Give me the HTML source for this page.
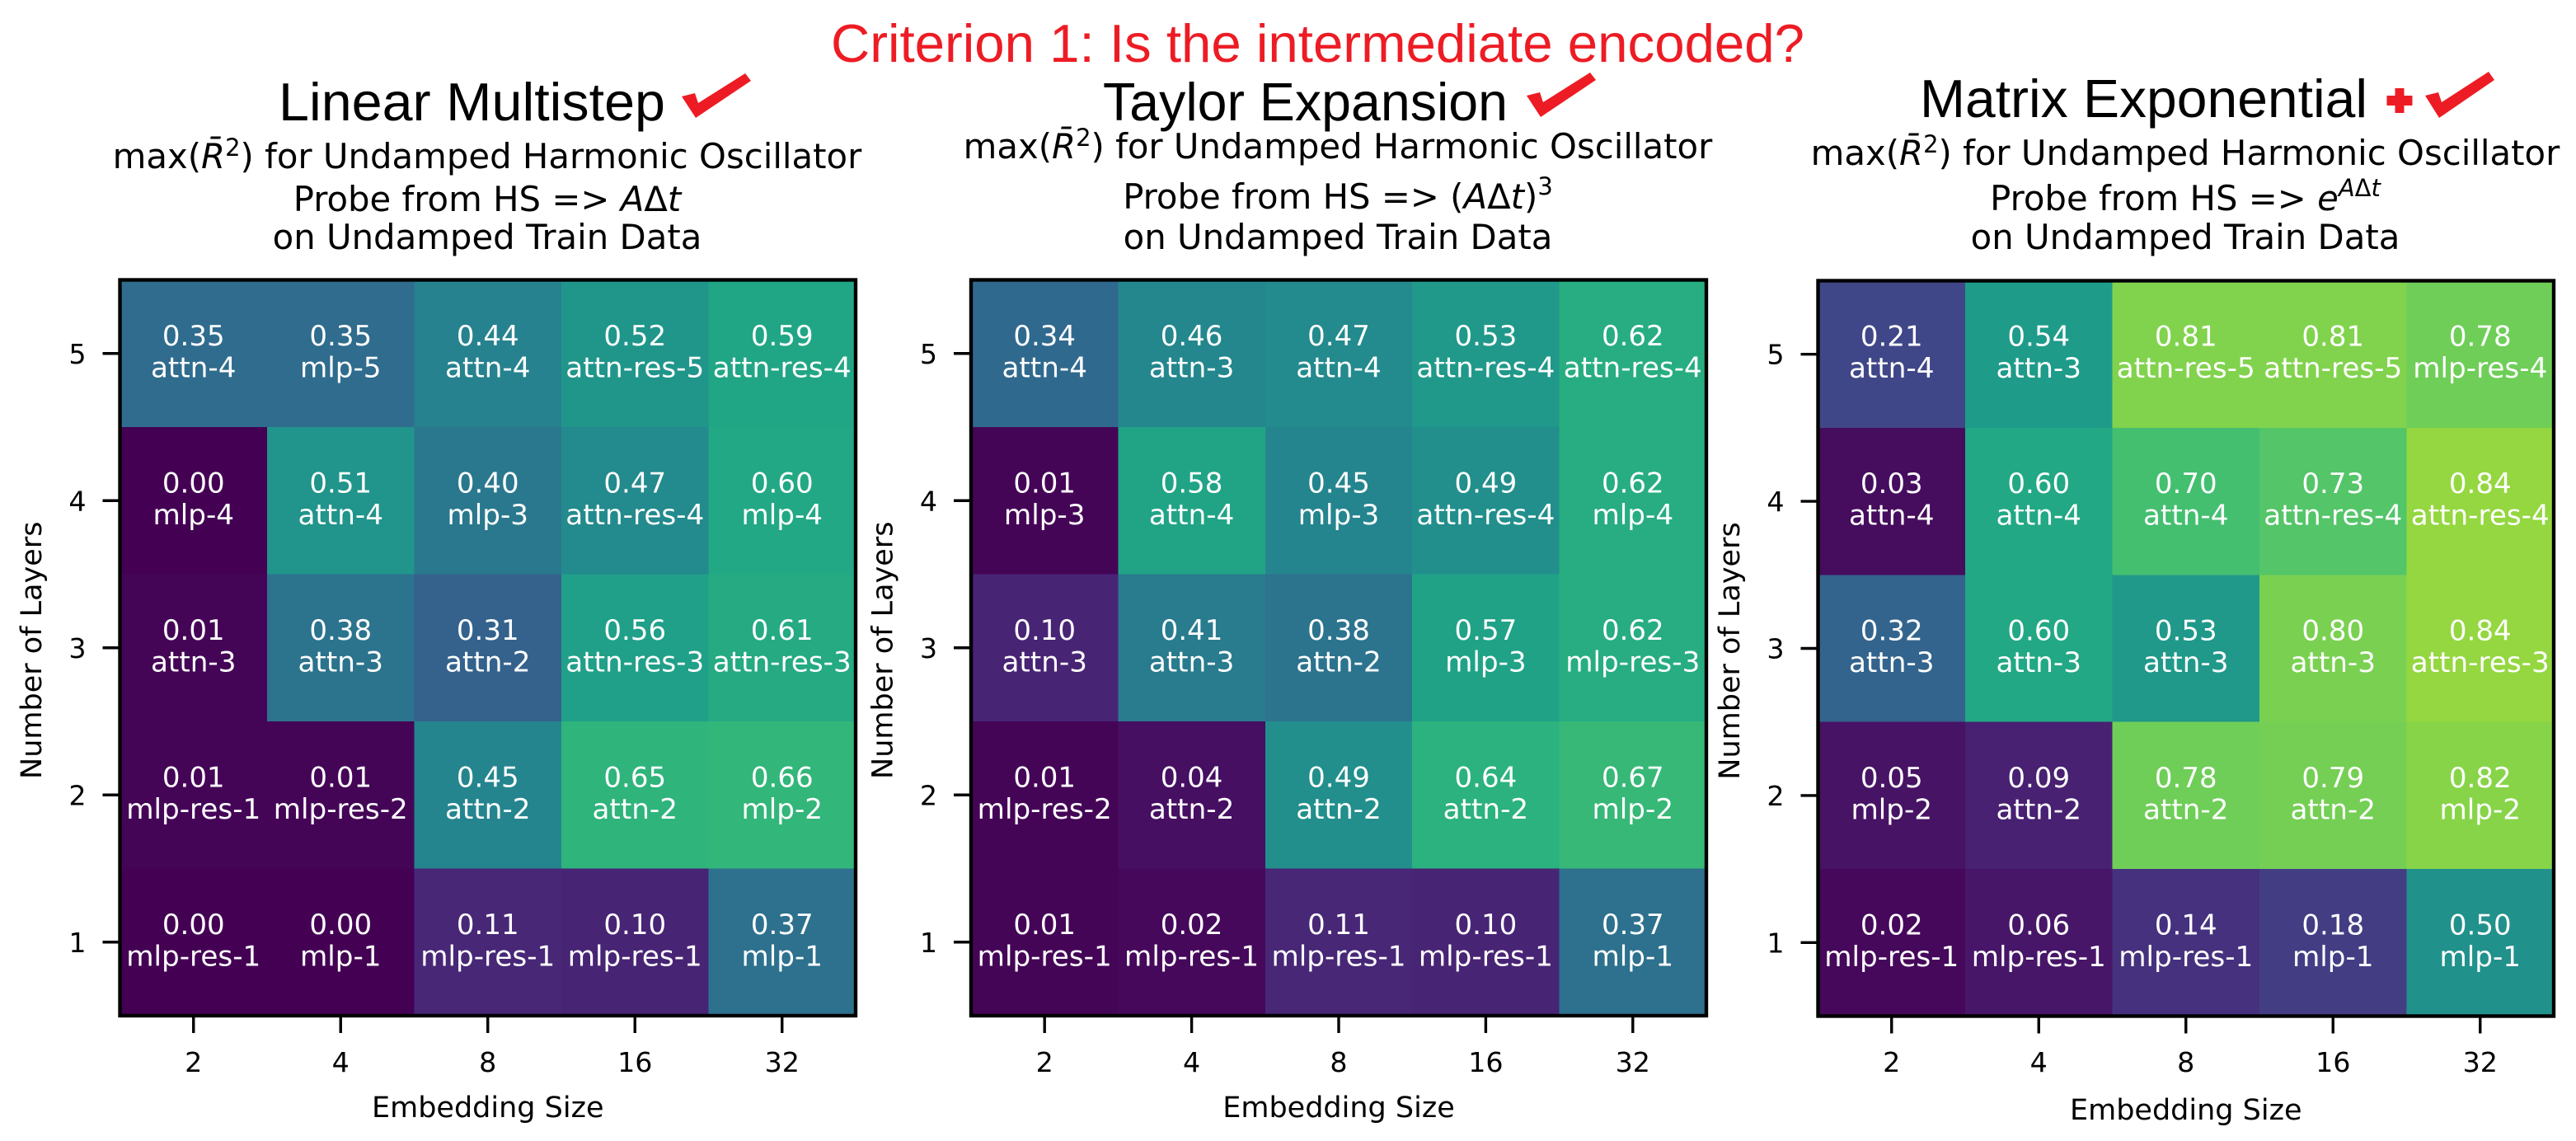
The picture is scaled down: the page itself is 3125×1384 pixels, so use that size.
<!DOCTYPE html>
<html lang="en">
<head>
<meta charset="utf-8">
<title>Criterion 1: Is the intermediate encoded?</title>
<style>
html,body{margin:0;padding:0;background:#fff;}
svg{position:absolute;left:0;top:0;display:block;}
.sub{font-family:"DejaVu Sans","Liberation Sans",sans-serif;font-size:41.8px;fill:#000;text-anchor:middle;}
.head{font-family:"Liberation Sans",sans-serif;font-size:65px;}
.it{font-style:italic;}
</style>
</head>
<body>
<svg id="fig" xmlns="http://www.w3.org/2000/svg" width="3125" height="1384" viewBox="0 0 3125 1384">
<rect x="0" y="0" width="3125" height="1384" fill="#ffffff"/>
<text class="head" x="1008" y="75" fill="#ed1c24" textLength="1181" lengthAdjust="spacingAndGlyphs">Criterion 1: Is the intermediate encoded?</text>

<text class="head" x="338" y="146" fill="#000" textLength="469" lengthAdjust="spacingAndGlyphs">Linear Multistep</text>
<polygon points="827,117 844,143 911,98 904,89 847,125 843,113" fill="#ed1c24"/>
<text class="sub" x="591" y="204">max(<tspan class="it">R̄</tspan><tspan font-size="29" dy="-15">2</tspan><tspan dy="15">) for Undamped Harmonic Oscillator</tspan></text>
<text class="sub" x="591" y="256">Probe from HS =&gt; <tspan class="it">A</tspan>Δ<tspan class="it">t</tspan></text>
<text class="sub" x="591" y="302">on Undamped Train Data</text>

<text class="head" x="1338" y="146" fill="#000" textLength="491" lengthAdjust="spacingAndGlyphs">Taylor Expansion</text>
<polygon points="1852,116 1869,142 1936,97 1929,88 1872,124 1868,112" fill="#ed1c24"/>
<text class="sub" x="1623" y="192">max(<tspan class="it">R̄</tspan><tspan font-size="29" dy="-15">2</tspan><tspan dy="15">) for Undamped Harmonic Oscillator</tspan></text>
<text class="sub" x="1623" y="253">Probe from HS =&gt; (<tspan class="it">A</tspan>Δ<tspan class="it">t</tspan>)<tspan font-size="29" dy="-17">3</tspan></text>
<text class="sub" x="1623" y="302">on Undamped Train Data</text>

<text class="head" x="2329" y="142" fill="#000" textLength="543" lengthAdjust="spacingAndGlyphs">Matrix Exponential</text>
<polygon points="2905.5,107 2916.5,107 2916.5,116 2926.5,116 2926.5,128 2916.5,128 2916.5,137 2905.5,137 2905.5,128 2895.5,128 2895.5,116 2905.5,116" fill="#ed1c24"/>
<polygon points="2942,116 2959,143 3026,97 3019,87 2962,124 2958,112" fill="#ed1c24"/>
<text class="sub" x="2651" y="200">max(<tspan class="it">R̄</tspan><tspan font-size="29" dy="-15">2</tspan><tspan dy="15">) for Undamped Harmonic Oscillator</tspan></text>
<text class="sub" x="2651" y="255">Probe from HS =&gt; <tspan class="it">e</tspan><tspan font-size="29" dy="-17" class="it">A</tspan><tspan font-size="29">Δ</tspan><tspan font-size="29" class="it">t</tspan></text>
<text class="sub" x="2651" y="302">on Undamped Train Data</text>
</svg>

<script>
// Chart data
const embeddingSizes = [2, 4, 8, 16, 32];
const layerCounts = [5, 4, 3, 2, 1];

const linearMultistepValues = [
  [0.35, 0.35, 0.44, 0.52, 0.59],
  [0.00, 0.51, 0.40, 0.47, 0.60],
  [0.01, 0.38, 0.31, 0.56, 0.61],
  [0.01, 0.01, 0.45, 0.65, 0.66],
  [0.00, 0.00, 0.11, 0.10, 0.37]
];
const linearMultistepModels = [
  ['attn-4', 'mlp-5', 'attn-4', 'attn-res-5', 'attn-res-4'],
  ['mlp-4', 'attn-4', 'mlp-3', 'attn-res-4', 'mlp-4'],
  ['attn-3', 'attn-3', 'attn-2', 'attn-res-3', 'attn-res-3'],
  ['mlp-res-1', 'mlp-res-2', 'attn-2', 'attn-2', 'mlp-2'],
  ['mlp-res-1', 'mlp-1', 'mlp-res-1', 'mlp-res-1', 'mlp-1']
];

const taylorExpansionValues = [
  [0.34, 0.46, 0.47, 0.53, 0.62],
  [0.01, 0.58, 0.45, 0.49, 0.62],
  [0.10, 0.41, 0.38, 0.57, 0.62],
  [0.01, 0.04, 0.49, 0.64, 0.67],
  [0.01, 0.02, 0.11, 0.10, 0.37]
];
const taylorExpansionModels = [
  ['attn-4', 'attn-3', 'attn-4', 'attn-res-4', 'attn-res-4'],
  ['mlp-3', 'attn-4', 'mlp-3', 'attn-res-4', 'mlp-4'],
  ['attn-3', 'attn-3', 'attn-2', 'mlp-3', 'mlp-res-3'],
  ['mlp-res-2', 'attn-2', 'attn-2', 'attn-2', 'mlp-2'],
  ['mlp-res-1', 'mlp-res-1', 'mlp-res-1', 'mlp-res-1', 'mlp-1']
];

const matrixExponentialValues = [
  [0.21, 0.54, 0.81, 0.81, 0.78],
  [0.03, 0.60, 0.70, 0.73, 0.84],
  [0.32, 0.60, 0.53, 0.80, 0.84],
  [0.05, 0.09, 0.78, 0.79, 0.82],
  [0.02, 0.06, 0.14, 0.18, 0.50]
];
const matrixExponentialModels = [
  ['attn-4', 'attn-3', 'attn-res-5', 'attn-res-5', 'mlp-res-4'],
  ['attn-4', 'attn-4', 'attn-4', 'attn-res-4', 'attn-res-4'],
  ['attn-3', 'attn-3', 'attn-3', 'attn-3', 'attn-res-3'],
  ['mlp-2', 'attn-2', 'attn-2', 'attn-2', 'mlp-2'],
  ['mlp-res-1', 'mlp-res-1', 'mlp-res-1', 'mlp-1', 'mlp-1']
];

const xAxisTitle = 'Embedding Size';
const yAxisTitle = 'Number of Layers';

// Rendering
const NS = 'http://www.w3.org/2000/svg';
const svg = document.getElementById('fig');
const DEJAVU = '"DejaVu Sans","Liberation Sans",sans-serif';
const viridisStops = ['#440154','#471365','#482475','#463480','#414487','#3b528b','#355f8d','#2f6c8e','#2a788e','#25858e','#21918c','#1f9e89','#22a884','#2fb47c','#44bf70','#5ec962','#7ad151','#9bd93c','#bddf26','#dfe318','#fde725'];

function colorScale(v) {
  const t = Math.max(0, Math.min(1, v)) * (viridisStops.length - 1);
  const i = Math.min(Math.floor(t), viridisStops.length - 2);
  const f = t - i;
  const a = viridisStops[i], b = viridisStops[i + 1];
  let out = 'rgb(';
  for (let k = 0; k < 3; k++) {
    const ca = parseInt(a.substr(1 + k * 2, 2), 16);
    const cb = parseInt(b.substr(1 + k * 2, 2), 16);
    out += Math.round(ca + (cb - ca) * f) + (k < 2 ? ',' : ')');
  }
  return out;
}

function make(tag, props, parent) {
  const el = document.createElementNS(NS, tag);
  for (const key in props) el.setAttribute(key, props[key]);
  parent.appendChild(el);
  return el;
}

function drawHeatmap(panelKey, box, values, models, xLabelBaseline) {
  const width = box.right - box.left;
  const height = box.bottom - box.top;
  const xBand = width / embeddingSizes.length;
  const yBand = height / layerCounts.length;
  const xAxis = function (i) { return box.left + xBand * i; };
  const yAxis = function (i) { return box.top + yBand * i; };

  const group = make('g', {}, svg);
  
  

  values.forEach(function (row, r) {
    row.forEach(function (value, c) {
      const cell = make('rect', {
        x: xAxis(c), y: yAxis(r), width: xBand + 0.4, height: yBand + 0.4,
        fill: colorScale(value), 'shape-rendering': 'crispEdges'
      }, group);
      
      

      const cx = xAxis(c) + xBand / 2;
      const cy = yAxis(r) + yBand / 2;
      const valueText = make('text', {
        x: cx, y: cy - 10, 'text-anchor': 'middle', fill: '#ffffff',
        'font-family': DEJAVU, 'font-size': 34
      }, group);
      valueText.textContent = value.toFixed(2);
      
      

      const modelText = make('text', {
        x: cx, y: cy + 28.5, 'text-anchor': 'middle', fill: '#ffffff',
        'font-family': DEJAVU, 'font-size': 34.2
      }, group);
      modelText.textContent = models[r][c];
      
      
    });
  });

  const frame = make('rect', {
    x: box.left, y: box.top, width: width, height: height,
    fill: 'none', stroke: '#000', 'stroke-width': 4.4
  }, group);
  
  

  embeddingSizes.forEach(function (size, i) {
    const x = xAxis(i) + xBand / 2;
    const tick = make('line', {
      x1: x, x2: x, y1: box.bottom + 2, y2: box.bottom + 21, stroke: '#000', 'stroke-width': 3.4
    }, group);
    
    

    const label = make('text', {
      x: x, y: 1300, 'text-anchor': 'middle', fill: '#000',
      'font-family': DEJAVU, 'font-size': 33.3
    }, group);
    label.textContent = size;
    
    
  });

  layerCounts.forEach(function (count, i) {
    const y = yAxis(i) + yBand / 2;
    const tick = make('line', {
      x1: box.left - 21, x2: box.left - 2, y1: y, y2: y, stroke: '#000', 'stroke-width': 3.4
    }, group);
    
    

    const label = make('text', {
      x: box.left - 41, y: y + 12, 'text-anchor': 'end', fill: '#000',
      'font-family': DEJAVU, 'font-size': 33.3
    }, group);
    label.textContent = count;
    
    
  });

  const xTitle = make('text', {
    x: box.left + width / 2, y: xLabelBaseline, 'text-anchor': 'middle', fill: '#000',
    'font-family': DEJAVU, 'font-size': 35
  }, group);
  xTitle.textContent = xAxisTitle;
  
  

  const ty = box.top + height / 2 + 3;
  const tx = box.left - 95.5;
  const yTitle = make('text', {
    x: tx, y: ty, 'text-anchor': 'middle', fill: '#000',
    'font-family': DEJAVU, 'font-size': 35,
    transform: 'rotate(-90 ' + tx + ' ' + ty + ')'
  }, group);
  yTitle.textContent = yAxisTitle;
  
  
}

drawHeatmap('linear-multistep', {left: 145.5, right: 1038, top: 339.5, bottom: 1232}, linearMultistepValues, linearMultistepModels, 1355);
drawHeatmap('taylor-expansion', {left: 1178, right: 2070, top: 339.5, bottom: 1232}, taylorExpansionValues, taylorExpansionModels, 1355);
drawHeatmap('matrix-exponential', {left: 2205.5, right: 3098, top: 340.5, bottom: 1232.5}, matrixExponentialValues, matrixExponentialModels, 1358);
</script>
</body>
</html>
